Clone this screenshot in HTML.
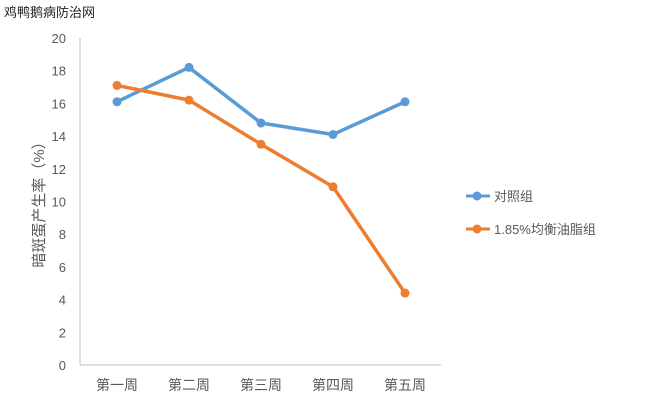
<!DOCTYPE html>
<html><head><meta charset="utf-8"><style>
body{margin:0;background:#fff;width:654px;height:412px;overflow:hidden;font-family:"Liberation Sans","Noto Sans CJK SC",sans-serif}
</style></head><body>
<svg width="654" height="412" xmlns="http://www.w3.org/2000/svg" id="chart">
<text x="4" y="17" font-size="13" fill="#222" font-family="Liberation Sans, Noto Sans CJK SC, sans-serif">鸡鸭鹅病防治网</text>
<text transform="translate(44,201) rotate(-90)" text-anchor="middle" font-size="15" fill="#595959" font-family="Liberation Sans, Noto Sans CJK SC, sans-serif">暗斑蛋产生率（%）</text>
<g id="g"></g>
<g>
<line x1="466" y1="196" x2="490" y2="196" stroke="#5b9bd5" stroke-width="3"/>
<circle cx="477" cy="196" r="4.5" fill="#5b9bd5"/>
<text x="494" y="201" font-size="13" fill="#595959" font-family="Liberation Sans, Noto Sans CJK SC, sans-serif">对照组</text>
<line x1="466" y1="229" x2="490" y2="229" stroke="#ed7d31" stroke-width="3"/>
<circle cx="477" cy="229" r="4.5" fill="#ed7d31"/>
<text x="494" y="234" font-size="13" fill="#595959" font-family="Liberation Sans, Noto Sans CJK SC, sans-serif">1.85%均衡油脂组</text>
</g>
</svg>
<script>
const categories=["第一周","第二周","第三周","第四周","第五周"];
const controlValues=[16.1,18.2,14.8,14.1,16.1];
const fatValues=[17.1,16.2,13.5,10.9,4.4];
const yTicks=[0,2,4,6,8,10,12,14,16,18,20];
const NS="http://www.w3.org/2000/svg";
const g=document.getElementById('g');
const y=v=>365-v*(327/20);
const x=i=>117+i*72;
function mk(t,a){const e=document.createElementNS(NS,t);for(const k in a)e.setAttribute(k,a[k]);g.appendChild(e);return e;}
let e=mk('line',{x1:80,y1:38,x2:80,y2:365,stroke:'#bfbfbf'});


e=mk('line',{x1:80,y1:365,x2:441,y2:365,stroke:'#bfbfbf'});


yTicks.forEach(v=>{
 const t=mk('text',{x:66,y:y(v)+5,'text-anchor':'end','font-size':13,fill:'#595959'});
 t.textContent=v;
 
 
});
categories.forEach((c,i)=>{
 const t=mk('text',{x:x(i),y:390,'text-anchor':'middle','font-size':14,fill:'#595959','font-family':'Liberation Sans, Noto Sans CJK SC, sans-serif'});
 t.textContent=c;
 
 
});
function series(vals,col,name){
 const p=mk('polyline',{points:vals.map((v,i)=>x(i)+','+y(v)).join(' '),fill:'none',stroke:col,'stroke-width':3.5,'stroke-linejoin':'round'});
 
 
 vals.forEach((v,i)=>{
  const c=mk('circle',{cx:x(i),cy:y(v),r:4.5,fill:col});
  
  
 });
}
series(controlValues,'#5b9bd5','control');
series(fatValues,'#ed7d31','fat');
</script>
</body></html>
